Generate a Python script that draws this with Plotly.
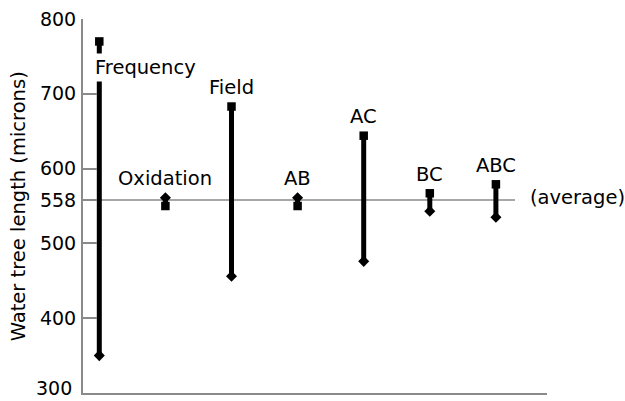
import plotly.graph_objects as go

# ---- data ----
effects = ["Frequency", "Oxidation", "Field", "AB", "AC", "BC", "ABC"]
square_values = [770, 550, 683, 550, 644, 567, 579]   # square-capped end
diamond_values = [350, 561, 456, 561, 476, 543, 535]  # diamond-capped end
average_value = 558
y_tick_values = [300, 400, 500, 558, 600, 700, 800]
y_tick_labels = ["300", "400", "500", "558", "600", "700", "800"]

FONT = "DejaVu Sans"
GRAY = "#8a8a8a"

fig = go.Figure()

# vertical effect lines
lx, ly = [], []
for e, s, d in zip(effects, square_values, diamond_values):
    lx += [e, e, None]
    ly += [s, d, None]
fig.add_trace(go.Scatter(x=lx, y=ly, mode="lines",
                         line=dict(color="black", width=5),
                         hoverinfo="skip", showlegend=False))
fig.add_trace(go.Scatter(x=effects, y=diamond_values, mode="markers",
                         marker=dict(symbol="diamond", size=8.5, color="black"),
                         showlegend=False))
fig.add_trace(go.Scatter(x=effects, y=square_values, mode="markers",
                         marker=dict(symbol="square", size=8.5, color="black"),
                         showlegend=False))

# average line
fig.add_shape(type="line", xref="x domain", yref="y", x0=0, x1=0.931,
              y0=average_value, y1=average_value,
              line=dict(color=GRAY, width=1.5), layer="below")
fig.add_annotation(text="(average)", xref="x domain", yref="y", x=0.9597,
                   y=average_value, xanchor="left", yanchor="middle", yshift=3,
                   showarrow=False, font=dict(family=FONT, size=19.5, color="black"))

# effect labels
for i, (e, s, d) in enumerate(zip(effects, square_values, diamond_values)):
    if i == 0:
        fig.add_annotation(text=e, x=e, y=s, xref="x", yref="y",
                           xanchor="left", yanchor="middle", xshift=-7, yshift=-26,
                           showarrow=False, bgcolor="white", borderpad=2,
                           font=dict(family=FONT, size=19.5, color="black"))
    else:
        fig.add_annotation(text=e, x=e, y=max(s, d), xref="x", yref="y",
                           xanchor="center", yanchor="middle", yshift=19,
                           showarrow=False,
                           font=dict(family=FONT, size=19.5, color="black"))

# bottom tick label drawn as annotation, nudged so it stays inside the page
axis_tick_text = [""] + y_tick_labels[1:]
fig.add_annotation(text=y_tick_labels[0], xref="paper", yref="y", x=0,
                   y=y_tick_values[0], xanchor="right", yanchor="middle",
                   xshift=-9, yshift=5, showarrow=False,
                   font=dict(family=FONT, size=19, color="black"))

# y-axis title
fig.add_annotation(text="Water tree length (microns)", xref="paper", yref="paper",
                   x=-0.1395, y=0.5, xanchor="center", yanchor="middle",
                   textangle=-90, showarrow=False,
                   font=dict(family=FONT, size=19.5, color="black"))

fig.update_layout(
    width=625, height=401,
    margin=dict(l=83, r=78, t=19, b=8, autoexpand=False),
    paper_bgcolor="white", plot_bgcolor="white",
    font=dict(family=FONT, size=19, color="black"),
    xaxis=dict(type="category", categoryorder="array", categoryarray=effects,
               range=[-0.2466, 6.773], showline=True, linecolor=GRAY, linewidth=2,
               showticklabels=False, ticks="", showgrid=False, zeroline=False,
               fixedrange=True),
    yaxis=dict(range=[300, 800], tickvals=y_tick_values, ticktext=axis_tick_text,
               showline=True, linecolor=GRAY, linewidth=2, ticks="inside",
               ticklen=14, tickwidth=1.5, tickcolor=GRAY, showgrid=False,
               zeroline=False, ticklabelstandoff=1, automargin=False,
               ticklabeloverflow="allow",
               tickfont=dict(family=FONT, size=19, color="black")),
)

fig.write_html("out.html")
